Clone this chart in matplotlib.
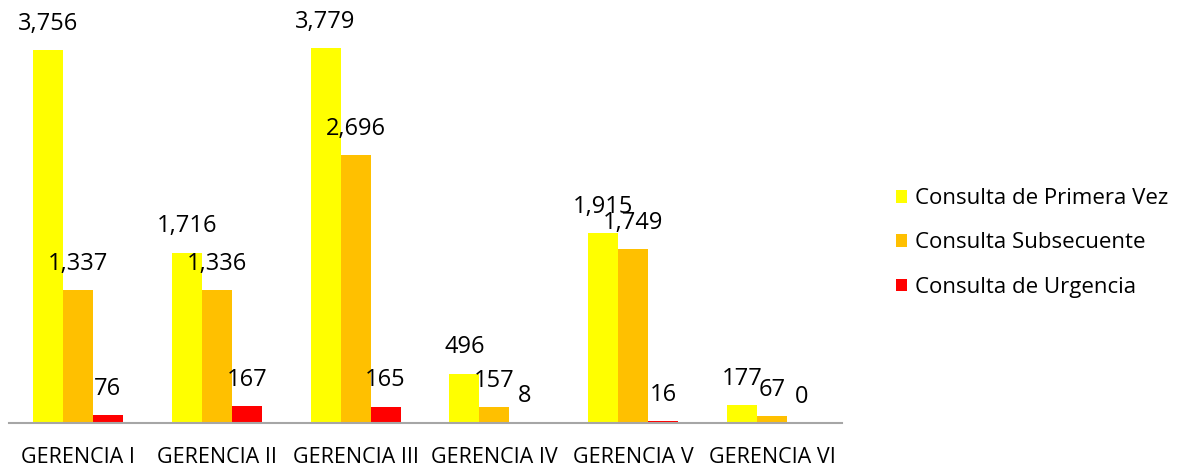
import numpy as np
import matplotlib.pyplot as plt

plt.rcParams['font.family'] = ['Open Sans', 'DejaVu Sans']

categories = ['GERENCIA I', 'GERENCIA II', 'GERENCIA III',
              'GERENCIA IV', 'GERENCIA V', 'GERENCIA VI']
primera_vez = [3756, 1716, 3779, 496, 1915, 177]
subsecuente = [1337, 1336, 2696, 157, 1749, 67]
urgencia = [76, 167, 165, 8, 16, 0]

series = [
    ('Consulta de Primera Vez', primera_vez, '#FFFF00'),
    ('Consulta Subsecuente', subsecuente, '#FFC000'),
    ('Consulta de Urgencia', urgencia, '#FF0000'),
]

fig = plt.figure(figsize=(11.8, 4.71), dpi=100)
ax = fig.add_axes([8.5 / 1180, 48 / 471, 833 / 1180, 397 / 471])

x = np.arange(len(categories))
w = 0.216
for i, (name, vals, color) in enumerate(series):
    pos = x + (i - 1) * w
    ax.bar(pos, vals, width=w, color=color, label=name)
    for p, v in zip(pos, vals):
        ax.annotate(f'{v:,}', (p, v), xytext=(0, 19), textcoords='offset points',
                    ha='center', va='center', fontsize=17, annotation_clip=False)

ax.set_xlim(-0.5, len(categories) - 0.5)
ax.set_ylim(0, 4000)
ax.set_yticks([])
ax.set_xticks(x)
ax.set_xticklabels(categories, fontsize=15.5)
ax.tick_params(axis='x', length=0, pad=17)
for s in ['top', 'right', 'left']:
    ax.spines[s].set_visible(False)
ax.spines['bottom'].set_color('#A6A6A6')
ax.spines['bottom'].set_linewidth(1.5)

leg = fig.legend(loc='center left', bbox_to_anchor=(876 / 1180, 1 - 243 / 471),
                 frameon=False, fontsize=16, handlelength=0.5, handleheight=0.5,
                 handletextpad=0.35, labelspacing=1.05)

fig.savefig('out.png', dpi=100)
